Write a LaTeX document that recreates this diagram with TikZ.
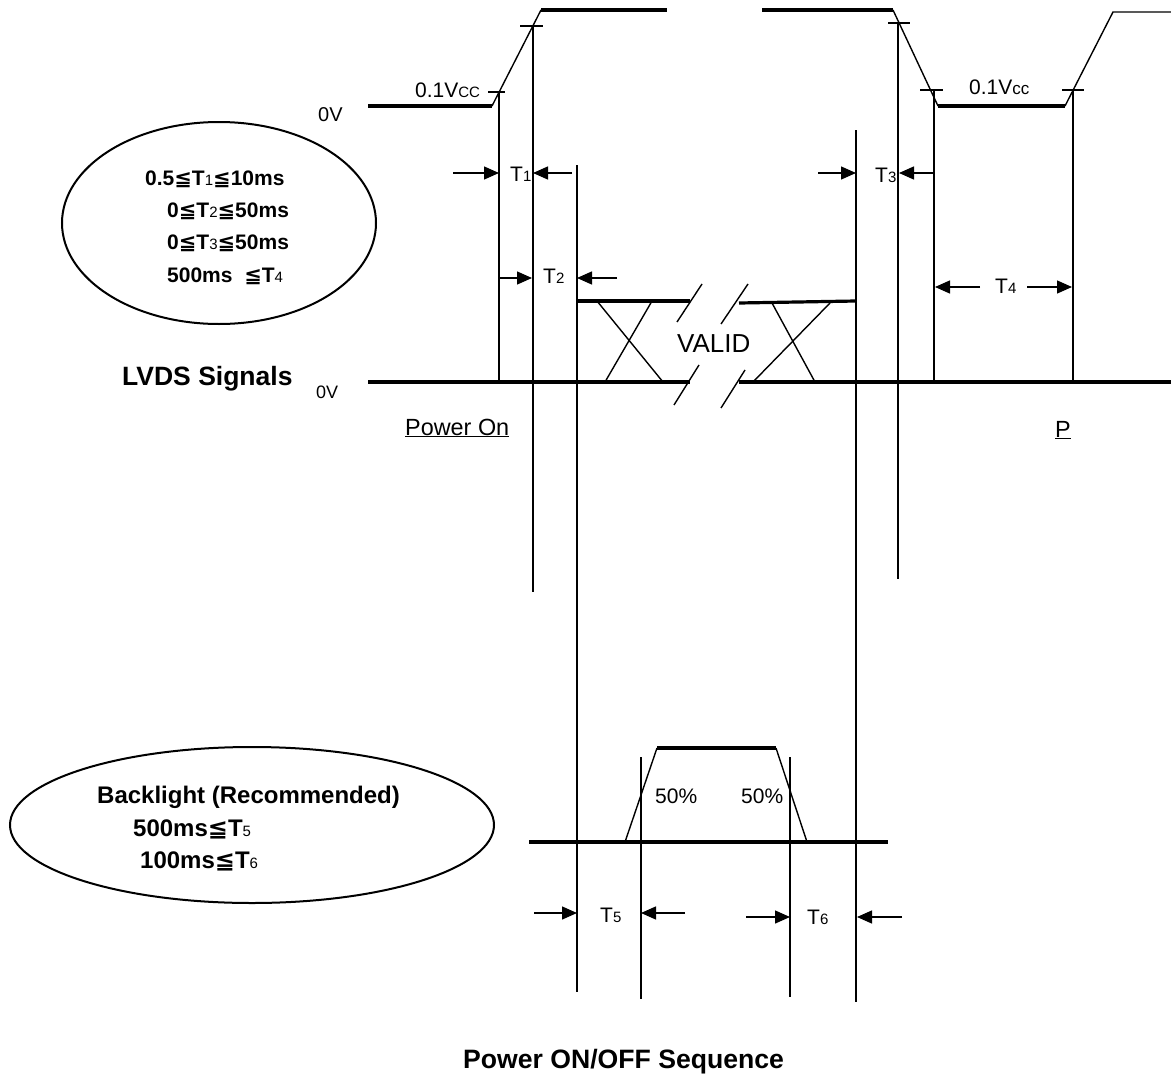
\documentclass[tikz,border=0pt]{standalone}
\usepackage{fontspec}
\setmainfont{Liberation Sans}
\newfontfamily\leqqfont{DejaVu Sans}
\usetikzlibrary{arrows.meta}
\newcommand{\lqq}{{\leqqfont ≦}}
\newcommand{\fs}[1]{\fontsize{#1}{#1}\selectfont}
\newcommand{\dg}[1]{{\mdseries\fs{15}#1}}

\begin{document}
\begin{tikzpicture}[x=1pt, y=-1pt,
        sig/.style={line width=3.2pt},
        wire/.style={line width=1.4pt},
        oval/.style={line width=2pt},
        dim/.style={line width=1.4pt, -{Triangle[length=15pt, width=13pt]}},
        lbl/.style={inner sep=0pt, anchor=base west, font=\fs{21}},
        note/.style={inner sep=0pt, anchor=base west, font=\bfseries\fs{21}}]

        \useasboundingbox (0,0) rectangle (1171,1084);

        \draw[sig] (368,106) -- (492,106);
        \draw[wire] (492,106) -- (541,10);
        \draw[sig] (541,10) -- (667,10);
        \draw[wire] (488,92) -- (505,92) (499,92) -- (499,382);
        \draw[wire] (520,26) -- (543,26) (533,26) -- (533,592);
        \node[lbl] (vcclo) at (415,97) {0.1V{\fs{15}CC}};
        \node[lbl, font=\fs{20}] (zvtop) at (318,121) {0V};

        \draw[sig] (762,10) -- (893,10);
        \draw[wire] (893,10) -- (938,106);
        \draw[sig] (938,106) -- (1065,106);
        \draw[wire] (1065,106) -- (1113,12) -- (1171,12);
        \draw[wire] (888,23) -- (910,23) (898,23) -- (898,579);
        \draw[wire] (920,90) -- (943,90) (934,90) -- (934,382);
        \draw[wire] (1062,90) -- (1084,90) (1073,90) -- (1073,382);
        \node[lbl] (vcchi) at (969,94) {0.1V{\fs{17}cc}};

        \draw[dim] (453,173) -- (499,173);
        \draw[dim] (572,173) -- (533,173);
        \node[lbl] (t1) at (510,181) {T\dg{1}};
        \draw[dim] (499,278) -- (532,278);
        \draw[dim] (617,278) -- (577,278);
        \node[lbl] (t2) at (543,283) {T\dg{2}};
        \draw[dim] (818,173) -- (856,173);
        \draw[dim] (933,173) -- (899,173);
        \node[lbl] (t3) at (875,182) {T\dg{3}};
        \draw[dim] (980,287) -- (935,287);
        \draw[dim] (1027,287) -- (1072,287);
        \node[lbl] (t4) at (995,293) {T\dg{4}};

        \draw[oval] (219,223) ellipse [x radius=157pt, y radius=101pt];
        \node[note] (lim1) at (145,185) {0.5\lqq T\dg{1}\lqq 10ms};
        \node[note] (lim2) at (167,217) {0\lqq T\dg{2}\lqq 50ms};
        \node[note] (lim3) at (167,249) {0\lqq T\dg{3}\lqq 50ms};
        \node[note] (lim4) at (167,282) {500ms\ \ \lqq T\dg{4}};

        \draw[sig] (577,301) -- (690,301);
        \draw[sig] (368,382) -- (690,382);
        \draw[sig] (739,303) -- (856,301);
        \draw[sig] (739,382) -- (1171,382);
        \draw[wire] (597,301) -- (663,382) (652,301) -- (605,382);
        \draw[wire] (772,303) -- (815,382) (830,303) -- (753,382);
        \draw[wire] (677,322) -- (702,284) (674,405) -- (699,365);
        \draw[wire] (721,324) -- (748,284) (721,408) -- (745,370);
        \draw[wire] (577,165) -- (577,992);
        \draw[wire] (856,130) -- (856,1002);
        \node[lbl, font=\fs{26}] (valid) at (677,352) {VALID};
        \node[lbl, font=\bfseries\fs{26.5}] (lvds) at (122,385) {LVDS Signals};
        \node[lbl, font=\fs{18}] (zvlvds) at (316,398) {0V};
        \node[lbl, font=\fs{23.4}] (pon) at (405,435) {\underline{Power On}};
        \node[lbl, font=\fs{23.4}] (poff) at (1055,437) {\underline{P}};

        \draw[sig] (529,842) -- (888,842);
        \draw[wire] (625,842) -- (657,748);
        \draw[sig] (657,748) -- (776,748);
        \draw[wire] (776,748) -- (807,842);
        \draw[wire] (641,757) -- (641,999);
        \draw[wire] (790,757) -- (790,997);
        \node[lbl] (pcton) at (655,803) {50\%};
        \node[lbl] (pctoff) at (741,803) {50\%};

        \draw[dim] (534,913) -- (577,913);
        \draw[dim] (685,913) -- (641,913);
        \node[lbl] (t5) at (600,922) {T\dg{5}};
        \draw[dim] (746,917) -- (790,917);
        \draw[dim] (902,917) -- (857,917);
        \node[lbl] (t6) at (807,924) {T\dg{6}};

        \draw[oval] (252,825) ellipse [x radius=242pt, y radius=78pt];
        \node[note, font=\bfseries\fs{24}] (blt) at (97,803) {Backlight (Recommended)};
        \node[note, font=\bfseries\fs{24}] (lim5) at (133,836) {500ms\lqq T\dg{5}};
        \node[note, font=\bfseries\fs{24}] (lim6) at (140,868) {100ms\lqq T\dg{6}};

        \node[lbl, font=\bfseries\fs{26.6}] (title) at (463,1068) {Power ON/OFF Sequence};
    \end{tikzpicture}
\end{document}
